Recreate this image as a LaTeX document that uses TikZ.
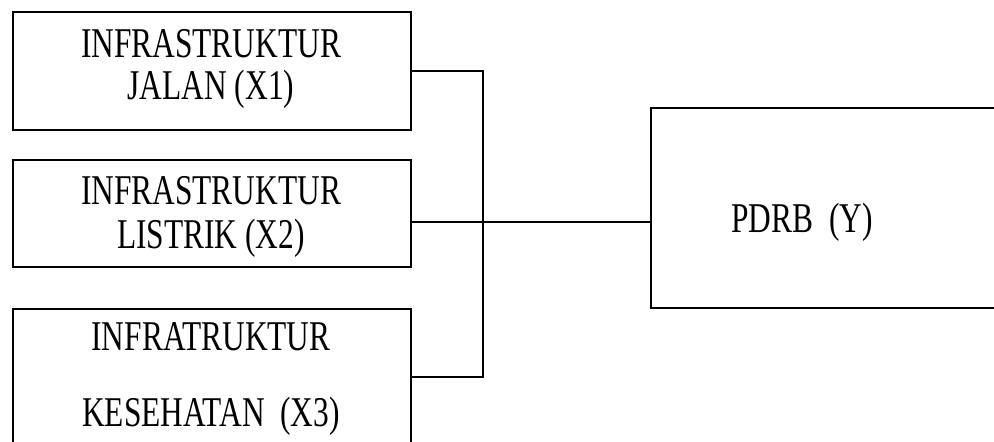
\documentclass[tikz,border=0pt]{standalone}
\usepackage{fontspec}
\usepackage{graphicx}
\setmainfont{Liberation Serif}
\newfontfamily\tnr{Liberation Serif}
\newcommand{\stretchtxt}[1]{\scalebox{1}[1.35]{#1}}
\begin{document}
\begin{tikzpicture}[x=1pt,y=-1pt,
  box/.style={draw=black,line width=1.3pt,minimum width=398pt,inner sep=0pt,rectangle},
  conn/.style={draw=black,line width=1.7pt},
  lbl/.style={anchor=base,inner sep=0pt,font=\tnr\fontsize{31.4}{36}\selectfont}]
\useasboundingbox (0,0) rectangle (994,442);
\clip (0,0) rectangle (994,442);
\fill[white] (0,0) rectangle (994,442);
\node[box,minimum height=118pt] (b1) at (212,71) {};
\node[box,minimum height=107pt] (b2) at (212,213.5) {};
\node[box,minimum height=161pt] (b3) at (212,389.5) {};
\node[box,minimum width=369pt,minimum height=200pt] (pd) at (835.5,208) {};
\node[lbl] (t1a) at (211,57) {\stretchtxt{INFRASTRUKTUR}};
\node[lbl] (t1b) at (211,99) {\stretchtxt{JALAN (X1)}};
\node[lbl] (t2a) at (211,204) {\stretchtxt{INFRASTRUKTUR}};
\node[lbl] (t2b) at (211,248) {\stretchtxt{LISTRIK (X2)}};
\node[lbl] (t3a) at (211,350) {\stretchtxt{INFRATRUKTUR}};
\node[lbl] (t3b) at (211,426) {\stretchtxt{KESEHATAN\ \ (X3)}};
\node[lbl] (tp) at (802,232) {\stretchtxt{PDRB\ \ (Y)}};
\coordinate (jt) at (483,71);
\coordinate (jm) at (483,222);
\coordinate (jb) at (483,377);
\draw[conn] (b1.east) -- (jt) -- (jb) -- (b3.east |- jb);
\draw[conn] (b2.east |- jm) -- (pd.west |- jm);
\end{tikzpicture}
\end{document}
